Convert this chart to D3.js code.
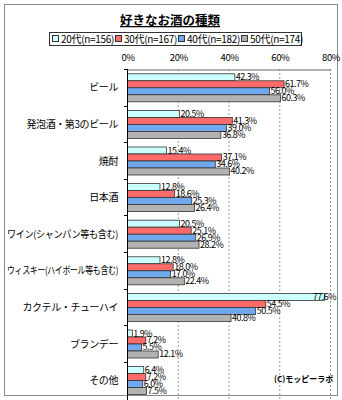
<!DOCTYPE html>
<html>
<head>
<meta charset="utf-8">
<script src="https://cdn.jsdelivr.net/npm/d3@7"></script>
<style>
  body { margin: 0; background: #fff; }
  svg { display: block; font-family: "Noto Sans CJK JP", sans-serif; }
</style>
</head>
<body>
<svg id="chart" width="342" height="400"></svg>
<script>
const categories = ["ビール", "発泡酒・第3のビール", "焼酎", "日本酒", "ワイン(シャンパン等も含む)",
  "ウィスキー(ハイボール等も含む)", "カクテル・チューハイ", "ブランデー", "その他"];
const seriesNames = ["20代(n=156)", "30代(n=167)", "40代(n=182)", "50代(n=174)"];
const age20 = [42.3, 20.5, 15.4, 12.8, 20.5, 12.8, 77.6, 1.9, 6.4];
const age30 = [61.7, 41.3, 37.1, 18.6, 25.1, 18.0, 54.5, 7.2, 7.2];
const age40 = [56.0, 39.0, 34.6, 25.3, 26.9, 17.0, 50.5, 5.5, 6.0];
const age50 = [60.3, 36.8, 40.2, 26.4, 28.2, 22.4, 40.8, 12.1, 7.5];
const xTicks = [0, 20, 40, 60, 80];

const colors = ["#ccffff", "#ff6b6b", "#6fa8ec", "#b2b2b2"];
const series = [age20, age30, age40, age50];

const svg = d3.select("#chart");
const frameRight = 337;

// outer frame
svg.append("rect")
  .attr("x", 4.5).attr("y", 4.5)
  .attr("width", frameRight - 4).attr("height", 391)
  .attr("fill", "#fff").attr("stroke", "#888");

// title
svg.append("text")
  .attr("x", 170).attr("y", 25)
  .attr("text-anchor", "middle")
  .attr("font-size", 12.5).attr("font-weight", "bold")
  .attr("text-decoration", "underline")
  .text("好きなお酒の種類");

// legend
const legend = svg.append("g");
legend.append("rect")
  .attr("x", 49.5).attr("y", 32.5)
  .attr("width", 252).attr("height", 13)
  .attr("fill", "#fff").attr("stroke", "#333");
const legendX = [52, 115, 178, 241];
seriesNames.forEach((name, i) => {
  legend.append("rect")
    .attr("x", legendX[i] + 0.5).attr("y", 35.5)
    .attr("width", 6).attr("height", 6)
    .attr("fill", colors[i]).attr("stroke", "#333");
  legend.append("text")
    .attr("x", legendX[i] + 9).attr("y", 43)
    .attr("font-size", 10).attr("letter-spacing", -0.3)
    .text(name);
});

const x = d3.scaleLinear().domain([0, 80]).range([127, 330]);
const y = d3.scaleBand().domain(categories)
  .range([69, 69 + 9 * 36.6])
  .paddingInner(0.235).paddingOuter(0.1175);
const ySub = d3.scaleBand().domain(d3.range(4)).range([0, y.bandwidth()]);

const plotTop = 69, plotBottom = 400;

// dashed gridlines
svg.append("g").selectAll("line")
  .data(xTicks.slice(1))
  .join("line")
  .attr("x1", d => x(d) + 0.5).attr("x2", d => x(d) + 0.5)
  .attr("y1", plotTop).attr("y2", plotBottom)
  .attr("stroke", "#999").attr("stroke-dasharray", "2,2");

// top axis
const xAxis = svg.append("g")
  .attr("transform", `translate(0.5,${plotTop + 0.5})`)
  .call(d3.axisTop(x).tickValues(xTicks).tickSize(0).tickFormat(d => d + "%").tickPadding(9));
xAxis.select(".domain").attr("stroke", "#666");
xAxis.selectAll("text").attr("font-size", 9.5).attr("fill", "#000")
  .attr("letter-spacing", -0.5)
  .attr("font-family", "\"Noto Sans CJK JP\", sans-serif");

// bars
const groups = svg.append("g").selectAll("g")
  .data(categories)
  .join("g")
  .attr("transform", d => `translate(0,${y(d)})`);

groups.each(function(cat, ci) {
  const g = d3.select(this);
  series.forEach((vals, si) => {
    g.append("rect")
      .attr("x", x(0) + 0.5).attr("y", ySub(si) + 0.5)
      .attr("width", x(vals[ci]) - x(0)).attr("height", ySub.bandwidth())
      .attr("fill", colors[si]).attr("stroke", "#333").attr("stroke-width", 0.8);
  });
});

// value labels, kept inside the frame
groups.each(function(cat, ci) {
  const g = d3.select(this);
  series.forEach((vals, si) => {
    const v = vals[ci];
    const t = g.append("text")
      .attr("y", ySub(si) + ySub.bandwidth() / 2 + 3.5)
      .attr("font-size", 9).attr("letter-spacing", -0.5)
      .text(v.toFixed(1) + "%");
    const w = t.node().getComputedTextLength();
    t.attr("x", Math.min(x(v) + 1.5, frameRight - 1 - w));
  });
});

// left axis with ticks at category boundaries
const yAxis = svg.append("g");
yAxis.append("line")
  .attr("x1", x(0) + 0.5).attr("x2", x(0) + 0.5)
  .attr("y1", plotTop).attr("y2", plotBottom)
  .attr("stroke", "#000");
yAxis.selectAll("line.tick")
  .data(categories)
  .join("line")
  .attr("class", "tick")
  .attr("x1", x(0) - 3).attr("x2", x(0))
  .attr("y1", d => Math.round(y(d) - y.step() * 0.1175) + 0.5)
  .attr("y2", d => Math.round(y(d) - y.step() * 0.1175) + 0.5)
  .attr("stroke", "#000");

// category labels, long ones squeezed to fit left of the axis
const maxLabel = 111;
svg.append("g").selectAll("text")
  .data(categories)
  .join("text")
  .attr("x", 118)
  .attr("y", d => y(d) + y.bandwidth() / 2 + 4)
  .attr("text-anchor", "end")
  .attr("font-size", 10).attr("letter-spacing", -0.4)
  .text(d => d)
  .each(function() {
    const len = this.getComputedTextLength();
    if (len > maxLabel) {
      d3.select(this).attr("textLength", maxLabel).attr("lengthAdjust", "spacingAndGlyphs");
    }
  });

// credit
svg.append("text")
  .attr("x", 274).attr("y", 382)
  .attr("font-size", 8).attr("font-weight", "bold")
  .text("(C)モッピーラボ");
</script>
</body>
</html>
